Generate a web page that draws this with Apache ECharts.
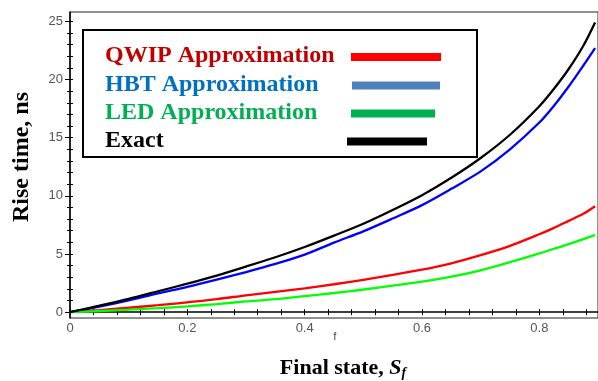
<!DOCTYPE html>
<html>
<head>
<meta charset="utf-8">
<script src="https://cdn.jsdelivr.net/npm/echarts@6/dist/echarts.min.js"></script>
<style>
  html, body { margin: 0; padding: 0; background: #ffffff; }
  #chart { width: 598px; height: 381px; }
</style>
</head>
<body>
<div id="chart"></div>
<script>
// Final state S_f (x) and rise times in ns for each model
const finalState = [0, 0.05, 0.1, 0.15, 0.2, 0.25, 0.3, 0.35, 0.4, 0.45, 0.5, 0.55, 0.6, 0.65, 0.7, 0.75, 0.8, 0.825, 0.85, 0.875, 0.895];
const seriesNames = ['QWIP Approximation', 'HBT Approximation', 'LED Approximation', 'Exact'];
const qwip  = [0, 0.18, 0.38, 0.6, 0.85, 1.12, 1.45, 1.75, 2.05, 2.4, 2.78, 3.2, 3.65, 4.2, 4.9, 5.7, 6.7, 7.25, 7.85, 8.45, 9.1];
const hbt   = [0, 0.48, 1.02, 1.62, 2.18, 2.8, 3.45, 4.15, 4.95, 5.98, 6.95, 8.05, 9.2, 10.6, 12.1, 14.0, 16.3, 17.75, 19.4, 21.2, 22.7];
const led   = [0, 0.1, 0.22, 0.35, 0.5, 0.7, 0.92, 1.12, 1.38, 1.65, 1.95, 2.28, 2.62, 3.05, 3.6, 4.3, 5.05, 5.45, 5.85, 6.28, 6.65];
const exact = [0, 0.56, 1.15, 1.8, 2.45, 3.15, 3.92, 4.72, 5.6, 6.58, 7.6, 8.78, 10.05, 11.55, 13.25, 15.25, 17.7, 19.2, 20.9, 22.9, 24.9];

// Axis ticks and labels
const xTickLabels = [0, 0.2, 0.4, 0.6, 0.8];
const xTicks = [0, 0.04, 0.08, 0.12, 0.16, 0.2, 0.24, 0.28, 0.32, 0.36, 0.4, 0.44, 0.48, 0.52, 0.56, 0.6, 0.64, 0.68, 0.72, 0.76, 0.8, 0.84, 0.88];
const yTickLabels = [0, 5, 10, 15, 20, 25];
const yTicks = [0, 1, 2, 3, 4, 5, 6, 7, 8, 9, 10, 11, 12, 13, 14, 15, 16, 17, 18, 19, 20, 21, 22, 23, 24, 25];

const lineColors = ['#ff0000', '#0000ff', '#00ff00', '#000000'];
const legendTextColors = ['#c00000', '#0070c0', '#00b050', '#000000'];
const legendLineColors = ['#ff0000', '#4f81bd', '#00b050', '#000000'];
const legendLineEnds = [441, 440, 435, 427];
const legendLineStarts = [351, 352, 351, 347];
const legendRows = [57, 85.5, 113.5, 141.5];

const pairs = (ys) => finalState.map((x, i) => [x, ys[i]]);
const allSeries = [qwip, hbt, led, exact];

const serif = '"Liberation Serif", "Times New Roman", serif';
const sans = '"Liberation Sans", Arial, sans-serif';

const legendGraphics = [{
  type: 'rect',
  shape: { x: 83, y: 30, width: 394, height: 127 },
  style: { fill: '#ffffff', stroke: '#000000', lineWidth: 2 },
  z: 10
}];
seriesNames.forEach((name, i) => {
  legendGraphics.push({
    type: 'text',
    x: 105, y: legendRows[i] - 1,
    style: { text: name, fill: legendTextColors[i], font: 'bold 24px ' + serif, textVerticalAlign: 'middle' },
    z: 11
  });
  legendGraphics.push({
    type: 'line',
    shape: { x1: legendLineStarts[i], y1: legendRows[i], x2: legendLineEnds[i], y2: legendRows[i] },
    style: { stroke: legendLineColors[i], lineWidth: 8 },
    z: 11
  });
});

const chart = echarts.init(document.getElementById('chart'), null, { renderer: 'canvas' });
chart.setOption({
  animation: false,
  backgroundColor: '#ffffff',
  grid: { left: 70, right: -3, top: 12, bottom: 63, show: true, borderColor: '#222', borderWidth: 1 },
  xAxis: [{
    type: 'value', min: 0, max: 0.9, position: 'bottom',
    axisLine: { show: true, lineStyle: { color: '#000', width: 1.5 } },
    axisTick: { show: true, customValues: xTicks, length: 3, lineStyle: { color: '#000', width: 1 } },
    axisLabel: { customValues: xTickLabels, margin: 4, color: '#555', fontFamily: sans, fontSize: 13 },
    splitLine: { show: false }
  }, {
    type: 'value', min: 0, max: 0.9, position: 'bottom',
    axisLine: { show: false },
    axisTick: { show: true, inside: true, customValues: xTicks, length: 3, lineStyle: { color: '#000', width: 1 } },
    axisLabel: { show: false },
    splitLine: { show: false }
  }],
  yAxis: [{
    type: 'value', min: -0.5, max: 25.8, position: 'left',
    axisLine: { show: true, lineStyle: { color: '#000', width: 1.5 } },
    axisTick: { show: true, customValues: yTickLabels, length: 5, lineStyle: { color: '#000', width: 1 } },
    axisLabel: { customValues: yTickLabels, margin: 7, color: '#555', fontFamily: sans, fontSize: 13 },
    splitLine: { show: false }
  }, {
    type: 'value', min: -0.5, max: 25.8, position: 'left',
    axisLine: { show: false },
    axisTick: { show: true, customValues: yTicks, length: 3, lineStyle: { color: '#000', width: 1 } },
    axisLabel: { show: false },
    splitLine: { show: false }
  }, {
    type: 'value', min: -0.5, max: 25.8, position: 'left',
    axisLine: { show: false },
    axisTick: { show: true, inside: true, customValues: yTicks, length: 3, lineStyle: { color: '#000', width: 1 } },
    axisLabel: { show: false },
    splitLine: { show: false }
  }],
  series: allSeries.map((ys, i) => ({
    name: seriesNames[i],
    type: 'line',
    xAxisIndex: 0,
    yAxisIndex: 0,
    data: pairs(ys),
    showSymbol: false,
    smooth: 0.3,
    lineStyle: { color: lineColors[i], width: 2.3 },
    z: 2 + i
  })),
  graphic: [
    ...legendGraphics,
    {
      type: 'text', x: 22, y: 157, rotation: Math.PI / 2,
      style: { text: 'Rise time, ns', font: 'bold 24px ' + serif, fill: '#000', textAlign: 'center', textVerticalAlign: 'middle' }
    },
    {
      type: 'text', x: 335, y: 337,
      style: { text: 'f', font: '10px ' + sans, fill: '#333', textAlign: 'center', textVerticalAlign: 'middle' }
    },
    {
      type: 'text', x: 343, y: 368,
      style: {
        text: '{b|Final state, }{i|S}{s|f}',
        textAlign: 'center', textVerticalAlign: 'middle',
        rich: {
          b: { font: 'bold 22px ' + serif, fill: '#000' },
          i: { font: 'italic bold 22px ' + serif, fill: '#000' },
          s: { font: 'italic bold 14px ' + serif, fill: '#000', padding: [10, 0, 0, 0] }
        }
      }
    }
  ]
});
</script>
</body>
</html>
